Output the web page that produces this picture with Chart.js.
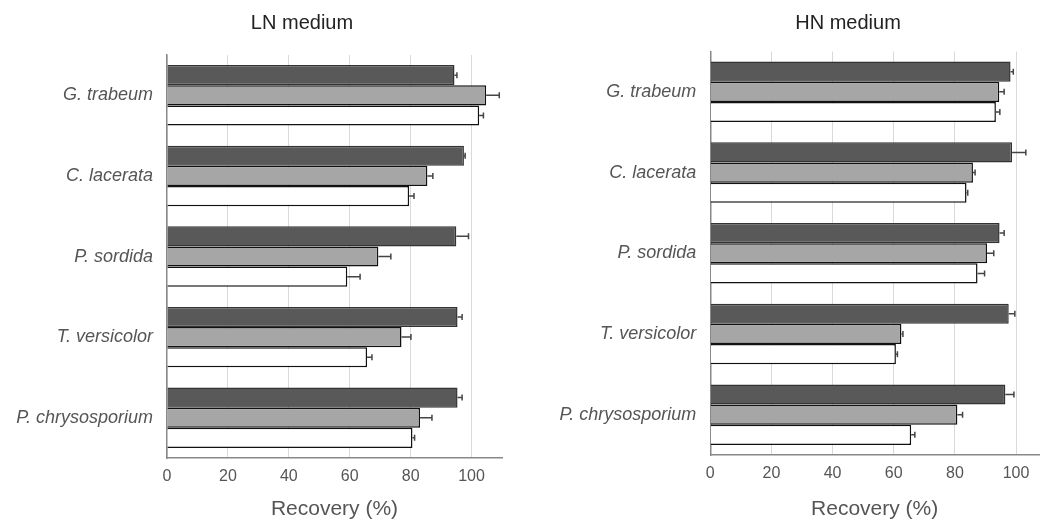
<!DOCTYPE html>
<html>
<head>
<meta charset="utf-8">
<script src="https://cdn.jsdelivr.net/npm/chart.js@4.4.1/dist/chart.umd.min.js"></script>
<style>
  body { margin: 0; background: #fff; width: 1040px; height: 529px; overflow: hidden; position: relative; }
  .panel { position: absolute; top: 0; height: 529px; }
</style>
</head>
<body>
<div class="panel" style="left:0;width:504px"><canvas id="lnChart"></canvas></div>
<div class="panel" style="left:520px;width:520px"><canvas id="hnChart"></canvas></div>
<script>
const species = ['G. trabeum', 'C. lacerata', 'P. sordida', 'T. versicolor', 'P. chrysosporium'];
const xTicks = [0, 20, 40, 60, 80, 100];

// LN medium
const lnDark = [94.4, 97.5, 95.0, 95.4, 95.4];
const lnDarkErr = [0.8, 0.4, 4.0, 1.5, 1.5];
const lnGray = [104.8, 85.5, 69.4, 77.0, 83.1];
const lnGrayErr = [4.3, 1.8, 4.1, 3.1, 3.9];
const lnWhite = [102.5, 79.5, 59.2, 65.7, 80.6];
const lnWhiteErr = [1.4, 1.6, 4.2, 1.6, 0.7];

// HN medium
const hnDark = [98.2, 98.7, 94.6, 97.6, 96.5];
const hnDarkErr = [0.9, 4.5, 1.5, 2.0, 2.8];
const hnGray = [94.5, 85.9, 90.5, 62.5, 80.8];
const hnGrayErr = [1.6, 0.7, 2.2, 0.5, 1.7];
const hnWhite = [93.4, 83.8, 87.4, 60.7, 65.7];
const hnWhiteErr = [1.3, 0.4, 2.3, 0.5, 1.2];

const FONT = '"Liberation Sans", Arial, Helvetica, sans-serif';

// one-sided error bars, drawn from the bar end to value + err
const errorBars = {
  id: 'errorBars',
  afterDatasetsDraw(chart) {
    const ctx = chart.ctx;
    const xs = chart.scales.x;
    ctx.save();
    ctx.strokeStyle = '#444';
    ctx.lineWidth = 1.5;
    chart.data.datasets.forEach((ds, di) => {
      const meta = chart.getDatasetMeta(di);
      meta.data.forEach((bar, i) => {
        const x0 = xs.getPixelForValue(ds.data[i]);
        const x1 = xs.getPixelForValue(ds.data[i] + ds.err[i]);
        const y = bar.y;
        ctx.beginPath();
        ctx.moveTo(x0, y);
        ctx.lineTo(x1, y);
        ctx.moveTo(x1, y - 3);
        ctx.lineTo(x1, y + 3);
        ctx.stroke();
      });
    });
    ctx.restore();
  }
};

const panelTitle = {
  id: 'panelTitle',
  afterDraw(chart, args, o) {
    const ctx = chart.ctx;
    ctx.save();
    ctx.font = '20px ' + FONT;
    ctx.fillStyle = '#222';
    ctx.textAlign = 'center';
    ctx.textBaseline = 'alphabetic';
    ctx.fillText(o.text, o.x, o.y);
    ctx.restore();
  }
};

function makeChart(id, cfg) {
  return new Chart(document.getElementById(id), {
    type: 'bar',
    data: {
      labels: species,
      datasets: [
        {label: 'Series 1', data: cfg.dark, err: cfg.darkErr, backgroundColor: '#595959', borderColor: '#333'},
        {label: 'Series 2', data: cfg.gray, err: cfg.grayErr, backgroundColor: '#a6a6a6', borderColor: '#111'},
        {label: 'Series 3', data: cfg.white, err: cfg.whiteErr, backgroundColor: '#ffffff', borderColor: '#111'}
      ]
    },
    options: {
      indexAxis: 'y',
      responsive: true,
      maintainAspectRatio: false,
      animation: false,
      datasets: {
        bar: {borderWidth: 1.5, categoryPercentage: 0.75, barPercentage: 1.0}
      },
      layout: {padding: {top: cfg.top, right: cfg.right, bottom: 0, left: 0}},
      scales: {
        x: {
          min: 0,
          max: cfg.max,
          afterBuildTicks: (s) => { s.ticks = xTicks.map(v => ({value: v})); },
          afterFit: (s) => { s.height = cfg.xHeight; },
          grid: {color: '#d9d9d9', lineWidth: 1, drawTicks: false},
          border: {color: '#888', width: 1.5},
          ticks: {color: '#555', font: {family: FONT, size: 16}, padding: 9},
          title: {display: true, text: 'Recovery (%)', color: '#555', font: {family: FONT, size: 21}, padding: {bottom: 7}}
        },
        y: {
          afterFit: (s) => { s.width = cfg.yWidth; },
          grid: {display: false, drawTicks: false},
          border: {display: true, color: '#888', width: 1.5},
          ticks: {color: '#555', font: {family: FONT, size: 18, style: 'italic'}, padding: 14}
        }
      },
      plugins: {
        legend: {display: false},
        tooltip: {enabled: false},
        panelTitle: {text: cfg.title, x: cfg.titleX, y: 28.5}
      }
    },
    plugins: [errorBars, panelTitle]
  });
}

makeChart('lnChart', {
  title: 'LN medium', titleX: 302,
  dark: lnDark, darkErr: lnDarkErr, gray: lnGray, grayErr: lnGrayErr, white: lnWhite, whiteErr: lnWhiteErr,
  max: 110, top: 55, right: 2, xHeight: 71, yWidth: 167
});

makeChart('hnChart', {
  title: 'HN medium', titleX: 328,
  dark: hnDark, darkErr: hnDarkErr, gray: hnGray, grayErr: hnGrayErr, white: hnWhite, whiteErr: hnWhiteErr,
  max: 107.5, top: 51.5, right: 1, xHeight: 74, yWidth: 190.3
});
</script>
</body>
</html>
